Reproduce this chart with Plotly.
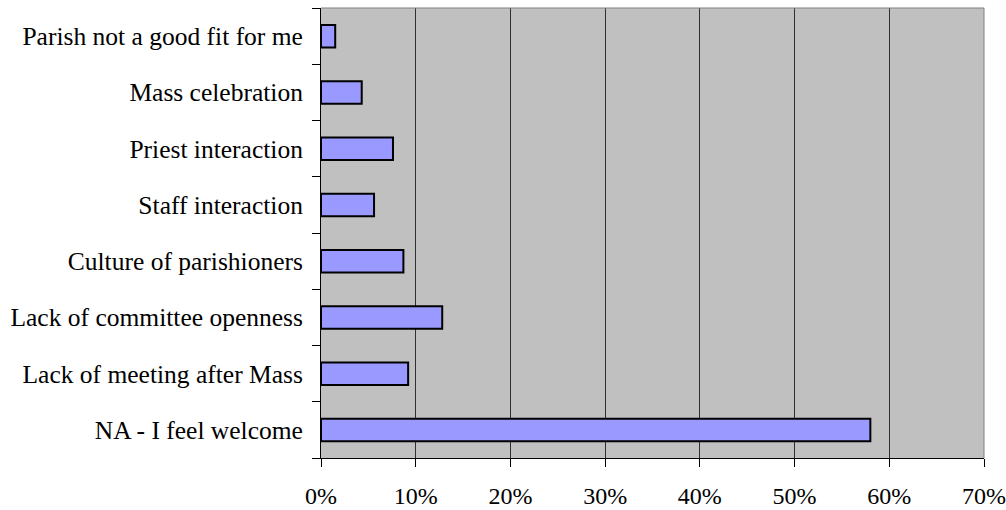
import plotly.graph_objects as go

categories = [
    "NA - I feel welcome",
    "Lack of meeting after Mass",
    "Lack of committee openness",
    "Culture of parishioners",
    "Staff interaction",
    "Priest interaction",
    "Mass celebration",
    "Parish not a good fit for me",
]
shares = [0.580, 0.092, 0.128, 0.087, 0.056, 0.076, 0.043, 0.015]
x_ticks = [0, 0.1, 0.2, 0.3, 0.4, 0.5, 0.6, 0.7]
x_tick_labels = ["0%", "10%", "20%", "30%", "40%", "50%", "60%", "70%"]

serif = "Liberation Serif, Times New Roman, serif"

fig = go.Figure(
    go.Bar(
        y=categories,
        x=shares,
        orientation="h",
        width=0.4,
        marker=dict(color="#9999FF", line=dict(color="black", width=2)),
    )
)

fig.update_layout(
    width=1006,
    height=510,
    margin=dict(l=321, r=22, t=8, b=52),
    paper_bgcolor="white",
    plot_bgcolor="#C0C0C0",
    font=dict(family=serif, size=24, color="black"),
    showlegend=False,
    bargap=0.6,
)

fig.update_xaxes(
    range=[0, 0.7],
    tickvals=x_ticks,
    ticktext=x_tick_labels,
    tickfont=dict(family=serif, size=24, color="black"),
    ticks="outside",
    ticklen=8,
    tickcolor="black",
    showgrid=True,
    gridcolor="#303030",
    gridwidth=1,
    showline=True,
    linecolor="black",
    linewidth=1,
    zeroline=False,
    ticklabelstandoff=8,
    automargin=False,
)

fig.update_yaxes(
    type="category",
    categoryorder="array",
    categoryarray=categories,
    tickson="boundaries",
    tickfont=dict(family=serif, size=25.5, color="black"),
    ticks="outside",
    ticklen=8,
    tickcolor="black",
    showgrid=False,
    showline=True,
    linecolor="black",
    linewidth=1,
    ticklabelstandoff=12,
    automargin=False,
)

# grey frame on the top and right edges of the plot area
fig.add_shape(type="line", xref="paper", yref="paper", x0=0, x1=1, y0=1, y1=1,
              line=dict(color="#808080", width=1))
fig.add_shape(type="line", xref="paper", yref="paper", x0=1, x1=1, y0=0, y1=1,
              line=dict(color="#808080", width=1))

fig.write_html("out.html")
